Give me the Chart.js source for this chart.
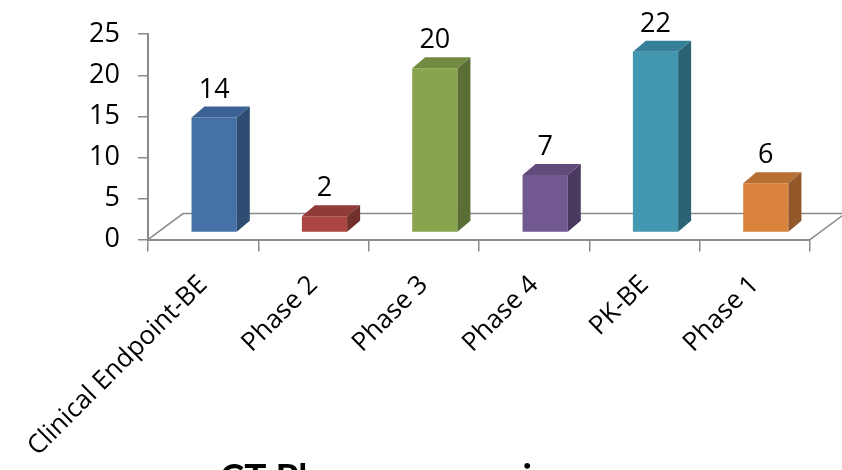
<!DOCTYPE html>
<html>
<head>
<meta charset="utf-8">
<script src="https://cdn.jsdelivr.net/npm/chart.js@4.4.0/dist/chart.umd.min.js"></script>
<style>
  html, body { margin: 0; padding: 0; background: #fff; }
</style>
</head>
<body>
<canvas id="myChart" width="842" height="470"></canvas>
<script>
// data
const categories = ['Clinical Endpoint-BE', 'Phase 2', 'Phase 3', 'Phase 4', 'PK-BE', 'Phase 1'];
const trials = [14, 2, 20, 7, 22, 6];
const yTicks = [0, 5, 10, 15, 20, 25];

// face colours: front / right side / top
const barColors  = ['#4571A6', '#AA4541', '#88A44D', '#725891', '#4198B0', '#DA833D'];
const sideColors = ['#2E4B71', '#71302C', '#5B6E33', '#4A3A60', '#2A6375', '#935829'];
const topColors  = ['#3B6293', '#903B37', '#738B41', '#614B7B', '#37809A', '#B86F33'];

const depth = { x: 13, y: -11 };       // bar side/top extrusion
const shift = { x: 11, y: -7 };        // bars sit a bit inside the floor
const floorDepth = { x: 35, y: -26 };  // floor parallelogram
const axisGray = '#8a8a8a';

const bars3d = {
  id: 'bars3d',
  beforeDatasetsDraw(chart) {
    const { ctx, chartArea: a } = chart;
    // floor
    ctx.save();
    ctx.strokeStyle = axisGray;
    ctx.lineWidth = 1.5;
    ctx.beginPath();
    ctx.moveTo(a.left, a.bottom);
    ctx.lineTo(a.left + floorDepth.x, a.bottom + floorDepth.y);
    ctx.lineTo(a.right + floorDepth.x, a.bottom + floorDepth.y);
    ctx.lineTo(a.right, a.bottom);
    ctx.stroke();
    ctx.restore();
    ctx.save();
    ctx.translate(shift.x, shift.y);
  },
  afterDatasetsDraw(chart) {
    const ctx = chart.ctx;
    const meta = chart.getDatasetMeta(0);
    meta.data.forEach((bar, i) => {
      const { x, y, base, width } = bar.getProps(['x', 'y', 'base', 'width'], true);
      const l = x - width / 2, r = x + width / 2;
      // top face
      ctx.fillStyle = topColors[i];
      ctx.beginPath();
      ctx.moveTo(l, y);
      ctx.lineTo(l + depth.x, y + depth.y);
      ctx.lineTo(r + depth.x, y + depth.y);
      ctx.lineTo(r, y);
      ctx.closePath();
      ctx.fill();
      // right face
      ctx.fillStyle = sideColors[i];
      ctx.beginPath();
      ctx.moveTo(r, y);
      ctx.lineTo(r + depth.x, y + depth.y);
      ctx.lineTo(r + depth.x, base + depth.y);
      ctx.lineTo(r, base);
      ctx.closePath();
      ctx.fill();
      // value label
      ctx.fillStyle = '#000';
      ctx.font = '27px "Open Sans"';
      ctx.textAlign = 'center';
      ctx.textBaseline = 'alphabetic';
      ctx.fillText(String(trials[i]), x, y + depth.y - 9);
    });
    ctx.restore();
  }
};

const ctx = document.getElementById('myChart');

new Chart(ctx, {
  type: 'bar',
  data: {
    labels: categories,
    datasets: [{
      data: trials,
      backgroundColor: barColors,
      borderWidth: 0,
      categoryPercentage: 1,
      barPercentage: 0.41
    }]
  },
  options: {
    responsive: false,
    animation: false,
    devicePixelRatio: 1,
    layout: { padding: { top: 33, right: 32, left: 0, bottom: 0 } },
    plugins: {
      legend: { display: false },
      tooltip: { enabled: false },
      title: {
        display: true,
        text: 'CT Phases comparison',
        position: 'bottom',
        color: '#000',
        font: { family: 'Lato', size: 37, weight: 'bold' },
        padding: { top: 0, bottom: -30 }
      }
    },
    scales: {
      y: {
        min: 0,
        max: 25,
        afterBuildTicks: s => { s.ticks = yTicks.map(v => ({ value: v })); },
        afterFit: s => { s.width = 148; },
        ticks: { color: '#000', padding: 18, font: { family: 'Open Sans', size: 27 } },
        grid: { drawOnChartArea: false, drawTicks: true, tickLength: 10, color: axisGray, lineWidth: 1.5 },
        border: { color: axisGray, width: 2 }
      },
      x: {
        afterFit: s => { s.height = 216; s.paddingLeft = 0; s.paddingRight = 0; },
        ticks: {
          color: '#000',
          maxRotation: 45,
          minRotation: 45,
          padding: 18,
          font: { family: 'Open Sans', size: 26 }
        },
        grid: { drawOnChartArea: false, drawTicks: true, tickLength: 12, color: axisGray, lineWidth: 1.5 },
        border: { color: axisGray, width: 2 }
      }
    }
  },
  plugins: [bars3d]
});
</script>
</body>
</html>
